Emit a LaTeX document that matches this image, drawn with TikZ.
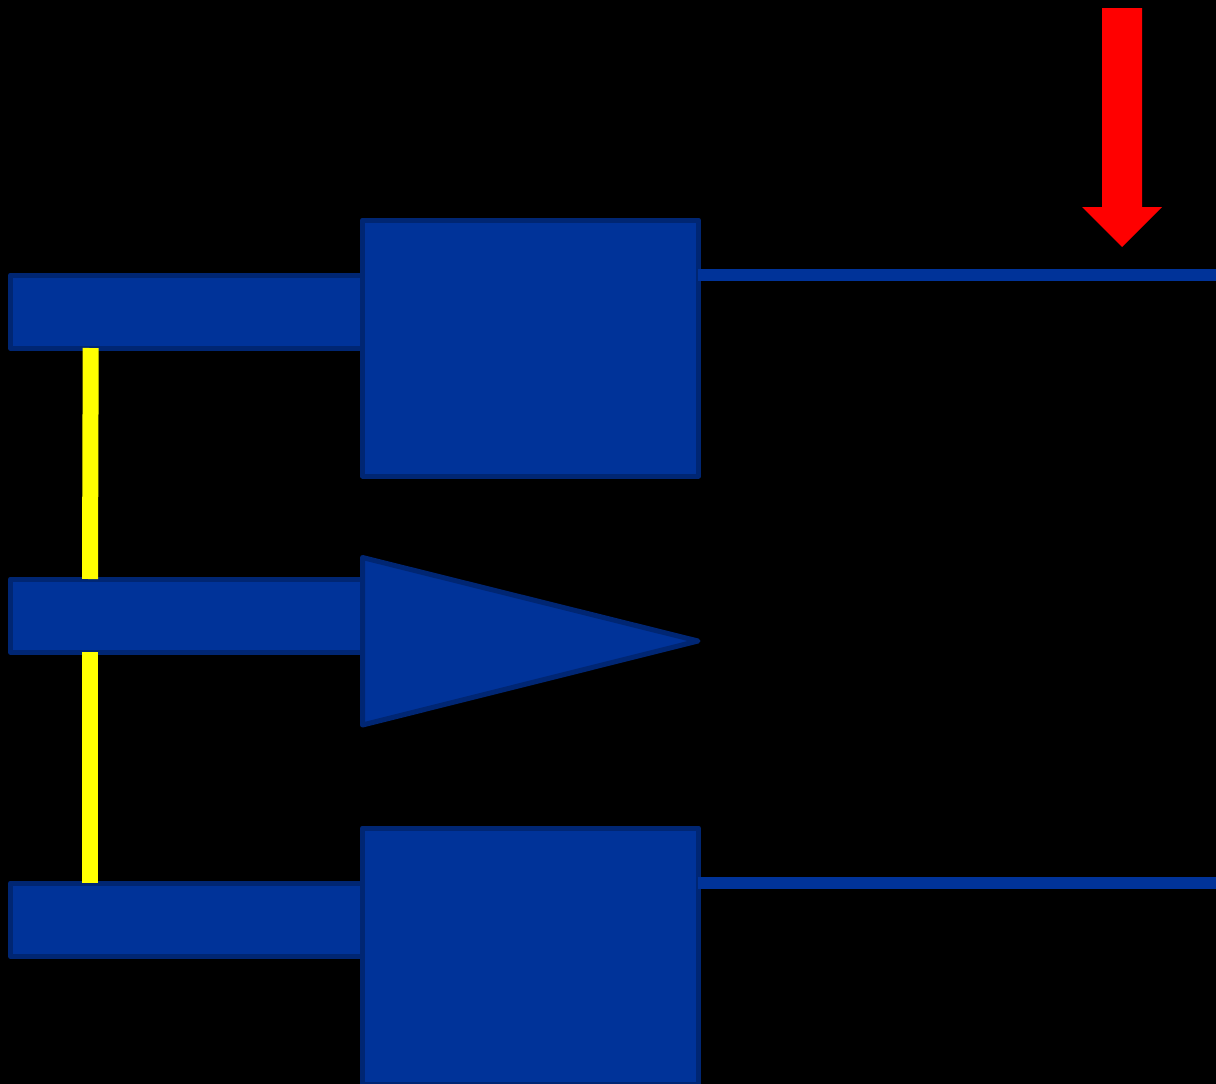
\documentclass[tikz,border=0pt]{standalone}
\usepackage{tikz}
\definecolor{partfill}{RGB}{0,51,153}
\definecolor{partedge}{RGB}{0,38,115}
\definecolor{pinyellow}{RGB}{255,255,0}
\tikzset{rod/.style={rectangle,draw=partedge,fill=partfill,line width=5pt,line join=round,inner sep=0pt,outer sep=0pt,minimum width=352pt,minimum height=73.4pt},
	 block/.style={rectangle,draw=partedge,fill=partfill,line width=5pt,line join=round,inner sep=0pt,outer sep=0pt,minimum width=336pt,minimum height=256pt},
	 link/.style={pinyellow,line width=16pt},
	 wire/.style={partfill,line width=12pt}
	 }

\begin{document}
\begin{tikzpicture}[x=1pt,y=-1pt] % three rods, two blocks, one wedge
	\useasboundingbox (0,0) rectangle (1216,1084);
	\fill[black] (0,0) rectangle (1216,1084);
	\clip (0,0) rectangle (1216,1084);
	\node[rod] (r1) at (186.6,311.7) {};
	\node[rod] (r2) at (186.6,615.7) {};
	\node[rod] (r3) at (186.6,919.7) {};
	\node[block] (b1) at (530.5,348) {};
	\node[block] (b2) at (530.5,956) {};
	\draw[draw=partedge,fill=partfill,line width=5pt,line join=round] (362.5,557.5) -- (698,641) -- (362.5,725) -- cycle;
	% pins between the rods
	\coordinate (p1) at (90.7,348);
	\coordinate (p2) at (90,579);
	\coordinate (p3) at (90,652);
	\coordinate (p4) at (90,883);
	\draw[link] (p1) to (p2);
	\draw[link] (p3) to (p4);
	% thin lines to the right edge
	\coordinate (w1) at (1216,275);
	\coordinate (w2) at (1216,883);
	\draw[wire] ([xshift=-1pt]b1.east |- w1) to (w1);
	\draw[wire] ([xshift=-1pt]b2.east |- w2) to (w2);
	% red arrow
	\fill[red] (1102,8) -- (1142,8) -- (1142,207) -- (1162,207) -- (1122,247) -- (1082,207) -- (1102,207) -- cycle;
\end{tikzpicture}
\end{document}
